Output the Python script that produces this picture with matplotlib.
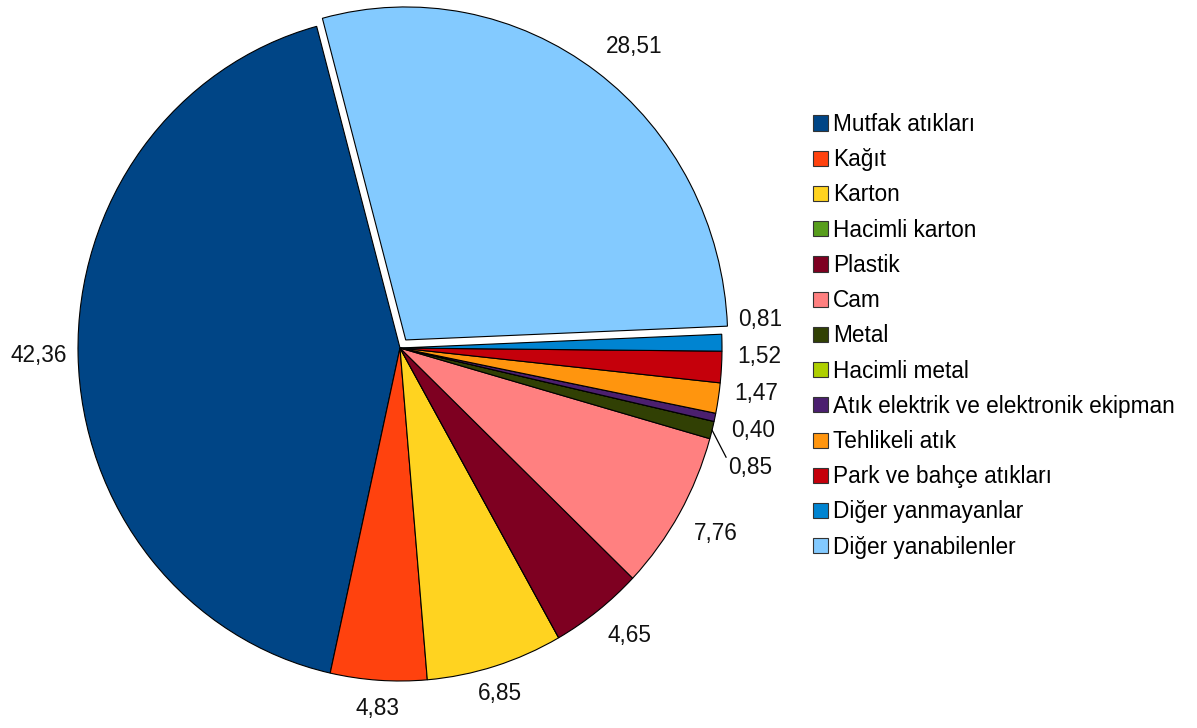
import numpy as np
import matplotlib
matplotlib.use('Agg')
import matplotlib.pyplot as plt
from matplotlib.patches import Patch

plt.rcParams['font.family'] = ['Liberation Sans', 'DejaVu Sans']

# Data
categories = ['Mutfak atıkları', 'Kağıt', 'Karton', 'Hacimli karton', 'Plastik', 'Cam',
              'Metal', 'Hacimli metal', 'Atık elektrik ve elektronik ekipman',
              'Tehlikeli atık', 'Park ve bahçe atıkları', 'Diğer yanmayanlar',
              'Diğer yanabilenler']
values = [42.36, 4.83, 6.85, 0.0, 4.65, 7.76, 0.85, 0.0, 0.40, 1.47, 1.52, 0.81, 28.51]
colors = ['#004586', '#ff420e', '#ffd320', '#579d1c', '#7e0021', '#ff8080', '#314004',
          '#aecf00', '#4b1f6f', '#ff950e', '#c5000b', '#0084d1', '#83caff']

W, H = 1197, 728
fig = plt.figure(figsize=(W / 100, H / 100), dpi=100, facecolor='white')

# pie box (pixels): centre and radii, the original is slightly stretched vertically
cx, cy, rx, ry = 400, 348, 322, 333
ax = fig.add_axes([(cx - 1.2 * rx) / W, (H - cy - 1.1 * ry) / H, 2.4 * rx / W, 2.2 * ry / H])

explode = [0.03 if c == 'Diğer yanabilenler' else 0 for c in categories]
wedges, _ = ax.pie(values, colors=colors, startangle=105, counterclock=True,
                   explode=explode,
                   wedgeprops=dict(edgecolor='black', linewidth=0.8))
ax.set_aspect('auto')
ax.set_xlim(-1.2, 1.2)
ax.set_ylim(-1.1, 1.1)
ax.axis('off')

# value labels
labels = []
for w, v in zip(wedges, values):
    if v <= 0:
        continue
    mid = np.deg2rad((w.theta1 + w.theta2) / 2)
    c, s = np.cos(mid), np.sin(mid)
    ox, oy = w.center
    ha = 'center' if abs(c) < 0.35 else ('left' if c > 0 else 'right')
    va = 'center' if abs(s) < 0.35 else ('bottom' if s > 0 else 'top')
    r = 1.035 if ha == 'right' else 1.05
    x, y = ox + r * c, oy + r * s
    labels.append(dict(txt=f'{v:.2f}'.replace('.', ','), x=x, y=y, y0=y,
                       ha=ha, va=va, ex=ox + c, ey=oy + s))

# push apart the crowded labels on the right
grp = sorted([l for l in labels if l['ha'] == 'left' and l['va'] == 'center'],
             key=lambda l: -l['y'])
gap = 0.111
for _ in range(300):
    for a, b in zip(grp, grp[1:]):
        d = a['y'] - b['y']
        if d < gap:
            a['y'] += (gap - d) / 2
            b['y'] -= (gap - d) / 2

for l in labels:
    ax.text(l['x'], l['y'], l['txt'], ha=l['ha'], va=l['va'], fontsize=16.3, color='#111111')
    if abs(l['y'] - l['y0']) > 0.09:
        ax.plot([l['ex'], l['x'] - 0.005], [l['ey'], l['y'] + 0.03],
                color='black', linewidth=0.9)

# Legend
handles = [Patch(facecolor=c, edgecolor='#333333', linewidth=0.8) for c in colors]
fig.legend(handles, categories, loc='upper left', bbox_to_anchor=(813 / W, 1 - 113 / H),
           frameon=False, fontsize=16.3, handlelength=0.65, handleheight=0.65,
           handletextpad=0.25, labelspacing=0.54, borderpad=0, borderaxespad=0)

fig.savefig('out.png', dpi=100)
